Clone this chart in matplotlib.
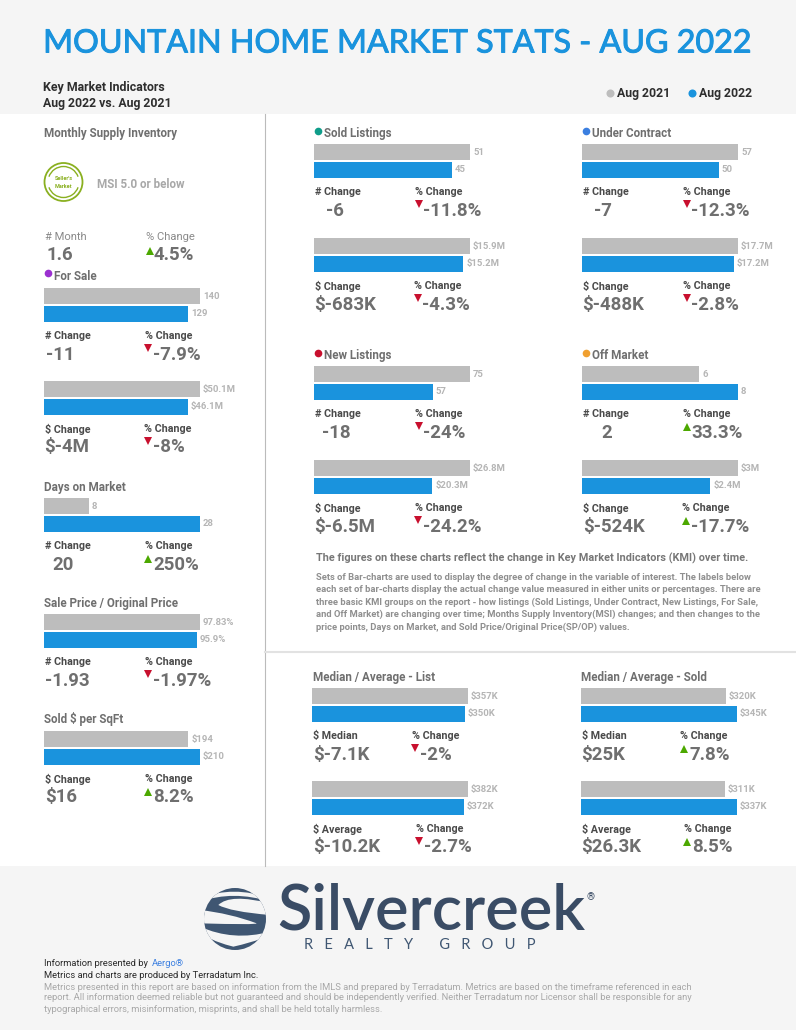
import matplotlib
matplotlib.use("Agg")
import matplotlib.pyplot as plt
import matplotlib.patheffects as pe
from matplotlib.patches import Circle, Rectangle, Arc, PathPatch
from matplotlib.path import Path

plt.rcParams['font.family'] = ['Roboto', 'DejaVu Sans']

W, H = 796, 1030

# data, one entry per pair of bars
values_2021 = [140, 50.1, 8, 97.83, 194, 51, 15.9, 57, 17.7, 75, 26.8, 6, 3.0, 357, 382, 320, 311]
values_2022 = [129, 46.1, 28, 95.9, 210, 45, 15.2, 50, 17.2, 57, 20.3, 8, 2.47, 350, 372, 345, 337]
labels_2021 = ["140", "$50.1M", "8", "97.83%", "$194", "51", "$15.9M", "57", "$17.7M", "75", "$26.8M", "6", "$3M",
               "$357K", "$382K", "$320K", "$311K"]
labels_2022 = ["129", "$46.1M", "28", "95.9%", "$210", "45", "$15.2M", "50", "$17.2M", "57", "$20.3M", "8", "$2.4M",
               "$350K", "$372K", "$345K", "$337K"]
change_names = ["# Change", "$ Change", "# Change", "# Change", "$ Change", "# Change", "$ Change", "# Change",
                "$ Change", "# Change", "$ Change", "# Change", "$ Change", "$ Median", "$ Average", "$ Median", "$ Average"]
change_values = ["-11", "$-4M", "20", "-1.93", "$16", "-6", "$-683K", "-7", "$-488K", "-18", "$-6.5M", "2", "$-524K",
                 "$-7.1K", "$-10.2K", "$25K", "$26.3K"]
pct_values = ["-7.9%", "-8%", "250%", "-1.97%", "8.2%", "-11.8%", "-4.3%", "-12.3%", "-2.8%", "-24%", "-24.2%",
              "33.3%", "-17.7%", "-2%", "-2.7%", "7.8%", "8.5%"]
pct_up = [False, False, True, False, True, False, False, False, False, False, False, True, True, False, False, True, True]

headers = ["Monthly Supply Inventory", "For Sale", "Days on Market", "Sale Price / Original Price", "Sold $ per SqFt",
           "Sold Listings", "Under Contract", "New Listings", "Off Market",
           "Median / Average - List", "Median / Average - Sold"]

# bar_x, bar_top, change label x, change value x, pct label x, triangle x, pct value x
layout = [
    (44, 288, 45, 46, 145, 148, 153), (44, 381, 45, 44, 144, 148, 153),
    (44, 498, 45, 52, 145, 148, 153), (44, 614, 45, 45, 145, 148, 153),
    (44, 731, 45, 45, 145, 148, 153),
    (314, 144, 315, 326, 415, 418.5, 423), (314, 238, 315, 314, 414, 418, 422),
    (582, 144, 583, 594, 683, 687, 691), (582, 238, 583, 582, 683, 687, 691),
    (314, 366, 315, 322, 415, 418.5, 423), (314, 460, 315, 314, 415, 418, 423),
    (582, 366, 583, 601, 683, 686.5, 691), (582, 460, 583, 583, 682, 686, 691),
    (312, 688, 313, 313, 412, 415, 420), (312, 781, 313, 313, 416, 419, 424),
    (581, 688, 582, 581, 680, 684, 689), (581, 781, 582, 581, 684, 687, 692),
]

GRAY = '#bdbdbd'
BLUE = '#1a93dd'
DARK = '#4a4a4a'
MID = '#6f6f6f'

fig = plt.figure(figsize=(W / 100, H / 100), dpi=100, facecolor='white')
page = fig.add_axes([0, 0, 1, 1], zorder=0)
page.set_xlim(0, W)
page.set_ylim(H, 0)
page.axis('off')


def txt(x, y, s, px, color=DARK, weight='bold', ha='left', **kw):
    page.text(x, y + 1, s, fontsize=px * 0.72, color=color, fontweight=weight, ha=ha, va='center', **kw)


page.add_patch(Rectangle((0, 0), W, 114, color='#f5f5f5', lw=0))
page.add_patch(Rectangle((0, 866), W, 164, color='#f5f5f5', lw=0))
page.plot([265, 265], [114, 866], color='#bbbbbb', lw=0.8)
page.plot([265, 795], [652, 652], color='#e2e2e2', lw=1.5)

# header
page.text(398, 43.5, "MOUNTAIN HOME MARKET STATS - AUG 2022", fontsize=23.2, color=BLUE, family='Lato',
          ha='center', va='center', path_effects=[pe.withStroke(linewidth=0.7, foreground=BLUE)])
txt(43, 86.5, "Key Market Indicators", 12.4, '#2e2e2e')
txt(43, 102.5, "Aug 2022 vs. Aug 2021", 12.3, '#2e2e2e')
page.plot([609.5], [92.5], 'o', ms=5.8, color=GRAY, mew=0)
txt(617, 93, "Aug 2021", 12.3, '#2e2e2e')
page.plot([691.5], [92.5], 'o', ms=5.8, color=BLUE, mew=0)
txt(699, 93, "Aug 2022", 12.3, '#2e2e2e')

# section headers
HP = 11.6
txt(44, 132.5, headers[0], HP, MID)
txt(54, 275, headers[1], HP, MID)
page.plot([48], [273], 'o', ms=5.5, color='#9b30d0', mew=0)
txt(44, 486, headers[2], HP, MID)
txt(44, 602, headers[3], HP, MID)
txt(44, 718.5, headers[4], HP, MID)
txt(324, 132.5, headers[5], HP, MID)
page.plot([318], [131], 'o', ms=5.5, color='#0f9d8a', mew=0)
txt(592, 132.5, headers[6], HP, MID)
page.plot([586], [131], 'o', ms=5.5, color='#3b7fe0', mew=0)
txt(324, 354.5, headers[7], HP, MID)
page.plot([318], [353], 'o', ms=5.5, color='#c8102e', mew=0)
txt(592, 354.5, headers[8], HP, MID)
page.plot([586], [353], 'o', ms=5.5, color='#f0a030', mew=0)
txt(313, 676.5, headers[9], HP, MID)
txt(581, 676.5, headers[10], HP, MID)

# badge
page.add_patch(Circle((63.5, 182), 19, fill=False, ec='#8ab020', lw=1.3))
page.add_patch(Arc((63.5, 182), 31, 31, theta1=20, theta2=160, ec='#8ab020', lw=1))
page.add_patch(Arc((63.5, 182), 31, 31, theta1=200, theta2=340, ec='#8ab020', lw=1))
txt(63.5, 178, "Seller's", 5.5, '#8ab020', ha='center')
txt(63.5, 185, "Market", 5.5, '#8ab020', ha='center')
txt(97, 183.5, "MSI 5.0 or below", 11.6, '#a8a8a8')

# monthly supply numbers
txt(45, 235.5, "# Month", 11.3, '#8a8a8a', weight='normal')
txt(47, 254, "1.6", 18.6, MID)
txt(146, 235.5, "% Change", 11.3, '#8a8a8a', weight='normal')
page.plot([150], [250.5], '^', ms=6.3, color='#4ca800', mew=0)
txt(154, 254, "4.5%", 18.6, MID)

# bars
for i, (bx, top, cx, vx, px, tx, qx) in enumerate(layout):
    ax = fig.add_axes([bx / W, 1 - (top + 34) / H, 156 / W, 34 / H], zorder=1)
    ax.barh([1, 0], [values_2021[i], values_2022[i]], height=16 / 18, color=[GRAY, BLUE])
    ax.set_xlim(0, max(values_2021[i], values_2022[i]))
    ax.set_ylim(-17 / 36, 1 + 17 / 36)
    ax.axis('off')
    for yy, v, lab in [(1, values_2021[i], labels_2021[i]), (0, values_2022[i], labels_2022[i])]:
        ax.annotate(lab, (v, yy), xytext=(2.2, 0), textcoords='offset points', va='center', ha='left',
                    fontsize=6.8, fontweight='bold', color='#b5b5b5', annotation_clip=False)
    txt(cx, top + 47, change_names[i], 10.8)
    txt(vx, top + 65.5, change_values[i], 18.6, MID)
    txt(px, top + 47, "% Change", 10.8)
    if pct_up[i]:
        page.plot([tx], [top + 60.5], '^', ms=6.3, color='#4ca800', mew=0)
    else:
        page.plot([tx], [top + 59.5], 'v', ms=6.3, color='#c8102e', mew=0)
    txt(qx, top + 65.5, pct_values[i], 18.6, MID)

# explanation
txt(316, 557.5, "The figures on these charts reflect the change in Key Market Indicators (KMI) over time.", 10.9, '#777777')
body = ["Sets of Bar-charts are used to display the degree of change in the variable of interest. The labels below",
        "each set of bar-charts display the actual change value measured in either units or percentages. There are",
        "three basic KMI groups on the report - how listings (Sold Listings, Under Contract, New Listings, For Sale,",
        "and Off Market) are changing over time; Months Supply Inventory(MSI) changes; and then changes to the",
        "price points, Days on Market, and Sold Price/Original Price(SP/OP) values."]
for n, line in enumerate(body):
    txt(316, 576.5 + n * 12.4, line, 9.36, '#8f8f8f')

# logo
icon = Circle((235, 919), 31, color='#3f5672', lw=0)
page.add_patch(icon)


def z(x, y):
    return 190 + x / 3, 870 + y / 3


def swoosh(points):
    verts = [z(*p) for p in points]
    codes = [Path.MOVETO] + [Path.CURVE3] * (len(verts) - 1)
    patch = PathPatch(Path(verts, codes), fc='#f5f5f5', ec='none')
    page.add_patch(patch)
    patch.set_clip_path(icon)


swoosh([(30, 85), (130, 45), (240, 85), (240, 95), (240, 95), (130, 60), (30, 95)])
swoosh([(240, 100), (120, 70), (85, 105), (120, 125), (240, 135), (240, 135), (240, 100)])
swoosh([(30, 120), (120, 130), (200, 160), (200, 165), (30, 160), (30, 160), (30, 120)])
swoosh([(30, 170), (130, 215), (240, 185), (240, 205), (130, 230), (30, 205), (30, 170)])
page.text(277, 911, "Silvercreek", fontsize=45.4, color='#3a4c65', family='Lato', fontweight='semibold', va='center')
txt(586.5, 896, "®", 10, '#3a4c65', weight='normal', ha='left')
page.text(419.5, 945, "R   E   A   L   T   Y       G   R   O   U   P", fontsize=10.5, color='#3f5672', family='Lato',
          ha='center', va='center')

# footer
FP = 9.35
txt(44, 963, "Information presented by", FP, '#2a2a2a', weight='normal')
txt(152, 963, "Aergo®", FP, '#3b7fe0', weight='normal')
txt(44, 974.5, "Metrics and charts are produced by Terradatum Inc.", FP, '#2a2a2a', weight='normal')
foot = ["Metrics presented in this report are based on information from the IMLS and prepared by Terradatum. Metrics are based on the timeframe referenced in each",
        "report. All information deemed reliable but not guaranteed and should be independently verified. Neither Terradatum nor Licensor shall be responsible for any",
        "typographical errors, misinformation, misprints, and shall be held totally harmless."]
for n, line in enumerate(foot):
    txt(44, 986 + n * 11, line, FP, '#a8a8a8', weight='normal')

fig.savefig('out.png', dpi=100)
